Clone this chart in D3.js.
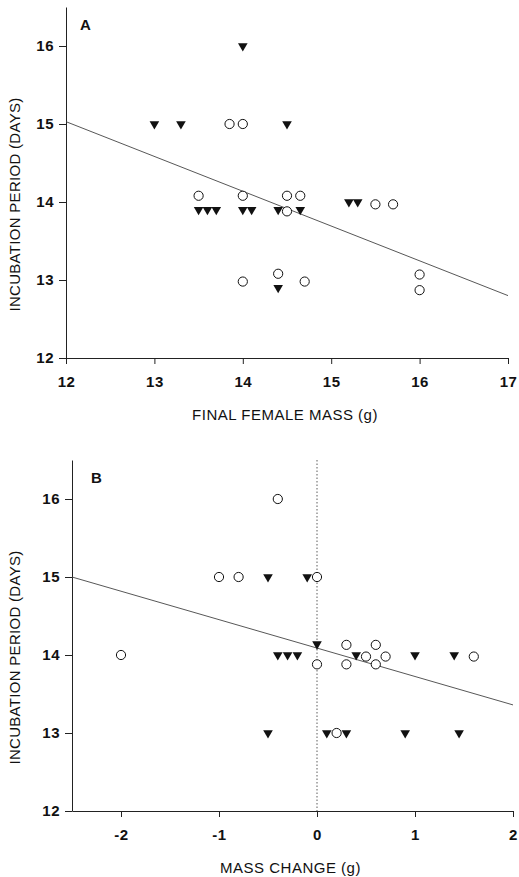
<!DOCTYPE html>
<html>
<head>
<meta charset="utf-8">
<script src="https://cdn.jsdelivr.net/npm/d3@7/dist/d3.min.js"></script>
<style>
  body { margin: 0; background: #fff; }
  text { font-family: "Liberation Sans", Arial, sans-serif; fill: #111; }
  .tick text { font-weight: bold; font-size: 15px; letter-spacing: 0.5px; }
  .axis path, .axis line { stroke: #222; stroke-width: 1; }
</style>
</head>
<body>
<div id="graph"></div>
<script>
//************ data ************//
// panel A: final female mass (g) vs incubation period (days)
var massA_circles = [[13.85,15],[14.0,15],[13.5,14.08],[14.0,14.08],[14.5,14.08],[14.65,14.08],
  [14.5,13.88],[15.5,13.97],[15.7,13.97],[14.0,12.98],[14.4,13.08],[14.7,12.98],[16.0,13.07],[16.0,12.87]];
var massA_triangles = [[14.0,16],[13.0,15],[13.3,15],[14.5,15],[13.5,13.9],[13.6,13.9],[13.7,13.9],
  [14.0,13.9],[14.1,13.9],[14.4,13.9],[14.65,13.9],[15.2,14.0],[15.3,14.0],[14.4,12.9]];
var fitA = [[12,15.03],[17,12.8]];

// panel B: mass change (g) vs incubation period (days)
var changeB_circles = [[-0.4,16],[-1.0,15],[-0.8,15],[0.0,15],[-2.0,14],[0.3,14.13],[0.6,14.13],
  [0.5,13.98],[0.7,13.98],[1.6,13.98],[0.0,13.88],[0.3,13.88],[0.6,13.88],[0.2,13.0]];
var changeB_triangles = [[-0.5,15],[-0.1,15],[0.0,14.14],[-0.4,14],[-0.3,14],[-0.2,14],[0.4,14],
  [1.0,14],[1.4,14],[-0.5,13],[0.1,13],[0.3,13],[0.9,13],[1.45,13]];
var fitB = [[-2.5,15.0],[2,13.36]];

var yTicks = [12,13,14,15,16];
var xTicksA = [12,13,14,15,16,17];
var xTicksB = [-2,-1,0,1,2];

//************ svg ************//
var width = 519, height = 877;
var svg = d3.select('#graph').append('svg')
  .attr('width', width).attr('height', height);

var plain = function(d) { return String(d); }; // keeps the hyphen for negatives

var drawPanel = function(p) {
  var g = svg.append('g');
  var x = d3.scaleLinear().domain(p.xDomain).range([p.left, p.right]);
  var y = d3.scaleLinear().domain([12, 16.5]).range([p.bottom, p.top]);

  // y axis
  g.append('g').attr('class', 'axis')
    .attr('transform', 'translate(' + p.left + ',0)')
    .call(d3.axisLeft(y).tickValues(yTicks).tickFormat(plain).tickSize(7).tickSizeOuter(0).tickPadding(5));
  // x axis
  g.append('g').attr('class', 'axis')
    .attr('transform', 'translate(0,' + p.bottom + ')')
    .call(d3.axisBottom(x).tickValues(p.xTicks).tickFormat(plain).tickSize(6).tickSizeOuter(0).tickPadding(12));

  // dotted zero line (panel B only)
  if (p.zeroLine) {
    g.append('line')
      .attr('x1', x(0)).attr('x2', x(0))
      .attr('y1', p.top).attr('y2', p.bottom)
      .attr('stroke', '#333').attr('stroke-width', 0.8)
      .attr('stroke-dasharray', '1.5,2');
  }

  // regression line
  g.append('path').datum(p.fit)
    .attr('fill', 'none').attr('stroke', '#444').attr('stroke-width', 0.9)
    .attr('d', d3.line().x(function(d){ return x(d[0]); }).y(function(d){ return y(d[1]); }));

  // open circles
  g.selectAll('circle.pt').data(p.circles).enter().append('circle')
    .attr('class', 'pt')
    .attr('cx', function(d){ return x(d[0]); })
    .attr('cy', function(d){ return y(d[1]); })
    .attr('r', 4.6)
    .attr('fill', '#fff').attr('stroke', '#111').attr('stroke-width', 1);

  // filled down-triangles
  var tri = d3.symbol().type(d3.symbolTriangle).size(40);
  g.selectAll('path.tri').data(p.triangles).enter().append('path')
    .attr('class', 'tri')
    .attr('d', tri)
    .attr('transform', function(d){ return 'translate(' + x(d[0]) + ',' + y(d[1]) + ') rotate(180)'; })
    .attr('fill', '#111');

  // panel letter
  g.append('text').attr('x', p.left + p.letterDx).attr('y', p.top + 23)
    .style('font-weight', 'bold').style('font-size', '15px').text(p.letter);

  // axis titles
  g.append('text')
    .attr('x', (p.left + p.right) / 2 - 2).attr('y', p.bottom + 62)
    .attr('text-anchor', 'middle').style('font-size', '15px').style('letter-spacing', '0.5px')
    .text(p.xTitle);
  g.append('text')
    .attr('transform', 'translate(20,' + ((p.top + p.bottom) / 2 + 22) + ') rotate(-90)')
    .attr('text-anchor', 'middle').style('font-size', '15px').style('letter-spacing', '0.3px')
    .text('INCUBATION PERIOD (DAYS)');
};

drawPanel({letter: 'A', letterDx: 14, left: 66, right: 508, top: 7, bottom: 358,
  xDomain: [12, 17], xTicks: xTicksA, fit: fitA,
  circles: massA_circles, triangles: massA_triangles,
  xTitle: 'FINAL FEMALE MASS (g)'});

drawPanel({letter: 'B', letterDx: 19, left: 72, right: 513, top: 460, bottom: 811,
  xDomain: [-2.5, 2], xTicks: xTicksB, fit: fitB, zeroLine: true,
  circles: changeB_circles, triangles: changeB_triangles,
  xTitle: 'MASS CHANGE (g)'});
</script>
</body>
</html>
